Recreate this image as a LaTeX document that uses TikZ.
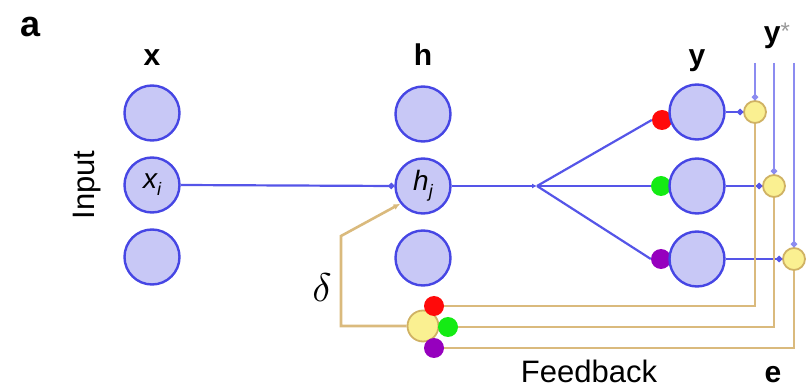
\documentclass[tikz,border=0pt]{standalone}
\usepackage{fontspec}
\setmainfont{Liberation Sans}
\usetikzlibrary{arrows.meta}
\definecolor{nodefill}{RGB}{200,200,246}
\definecolor{nodeline}{RGB}{70,70,228}
\definecolor{wire}{RGB}{85,85,232}
\definecolor{target}{RGB}{140,140,240}
\definecolor{fbtan}{RGB}{218,186,125}
\definecolor{yel}{RGB}{250,240,145}
\definecolor{yelline}{RGB}{208,178,100}
\definecolor{gred}{RGB}{255,10,10}
\definecolor{ggreen}{RGB}{20,235,20}
\definecolor{gpurple}{RGB}{150,0,190}
\begin{document}
\begin{tikzpicture}[x=1pt,y=-1pt,
  unit/.style={circle,draw=nodeline,fill=nodefill,line width=2.4pt,minimum size=55pt,inner sep=0pt,
    font=\fontsize{28}{28}\selectfont\itshape},
  gate/.style={circle,inner sep=0pt,minimum size=20pt},
  comp/.style={circle,draw=yelline,fill=yel,line width=1.8pt,minimum size=22pt,inner sep=0pt},
  fwd/.style={draw=wire,line width=2.2pt},
  tgt/.style={draw=target,line width=2.2pt},
  fb/.style={draw=fbtan,line width=2.6pt},
  dottip/.style={-{Circle[length=6pt,width=6pt]}},
  lab/.style={anchor=base,font=\fontsize{30}{30}\selectfont\bfseries},
  txt/.style={font=\fontsize{31}{31}\selectfont}
]
\useasboundingbox (0,0) rectangle (807,390);

% gating dots on the output layer (drawn below the units)
\node[gate,fill=gred] (gr) at (662,120) {};
\node[gate,fill=ggreen] (gg) at (661,186) {};
\node[gate,fill=gpurple] (gp) at (661,259) {};

% input layer
\node[unit] (x1) at (152,113) {};
\node[unit] (x2) at (152,185) {x\raisebox{-7pt}{\fontsize{18}{18}\selectfont i}};
\node[unit] (x3) at (152,257) {};
% hidden layer
\node[unit] (h1) at (423,114) {};
\node[unit] (h2) at (423,186) {h\raisebox{-7pt}{\fontsize{18}{18}\selectfont j}};
\node[unit] (h3) at (423,258) {};
% output layer
\node[unit] (y1) at (697,112) {};
\node[unit] (y2) at (697,186) {};
\node[unit] (y3) at (697,259) {};

% comparators
\node[comp] (c1) at (755,112) {};
\node[comp] (c2) at (774,186) {};
\node[comp] (c3) at (794,259) {};

% feedback unit with its gates
\node[gate,minimum size=31pt,draw=yelline,fill=yel,line width=1.8pt] (fy) at (423,326) {};
\node[gate,fill=gred] (fr) at (434,306) {};
\node[gate,fill=ggreen] (fg) at (448,327) {};
\node[gate,fill=gpurple] (fp) at (434,348) {};

% target lines
\coordinate (t1) at (755,63);
\coordinate (t2) at (774,63);
\coordinate (t3) at (794,63);
\draw[tgt,dottip] (t1) -- (c1.north);
\draw[tgt,dottip] (t2) -- (c2.north);
\draw[tgt,dottip] (t3) -- (c3.north);

% forward connections
\coordinate (fork) at (537,186);
\draw[fwd,dottip] (x2.east) -- (h2.west);
\draw[fwd,-{Latex[length=5pt,width=5pt]}] (h2.east) -- (fork);
\draw[fwd] (fork) -- (gr.west);
\draw[fwd] (fork) -- (gg.west);
\draw[fwd] (fork) -- (gp.west);
\draw[fwd,dottip] (y1.east) -- (c1.west);
\draw[fwd,dottip] (y2.east) -- (c2.west);
\draw[fwd,dottip] (y3.east) -- (c3.west);

% error feedback lines
\draw[fb] (c1.south) |- (fr.east);
\draw[fb] (c2.south) |- (fg.east);
\draw[fb] (c3.south) |- (fp.east);

% delta path back to the hidden unit
\coordinate (d1) at (341,326);
\coordinate (d2) at (341,236);
\draw[fb,-{Latex[length=7pt,width=6pt]}] (fy.west) -- (d1) -- (d2) -- (h2.218);

% labels
\node[lab,font=\fontsize{36}{36}\selectfont\bfseries] at (31,37) {a};
\node[lab] at (152,66) {x};
\node[lab] at (423,66) {h};
\node[lab] at (697,66) {y};
\node[lab] at (777,43) {y\textcolor{gray!80}{\raisebox{3pt}{\fontsize{24}{24}\selectfont\mdseries*}}};
\node[lab] at (773,383) {e};
\node[txt,anchor=base] at (589,383) {Feedback};
\node[txt,rotate=90] at (87,185) {Input};
\node at (322,288) {\scalebox{4}{$\delta$}};
\end{tikzpicture}
\end{document}
